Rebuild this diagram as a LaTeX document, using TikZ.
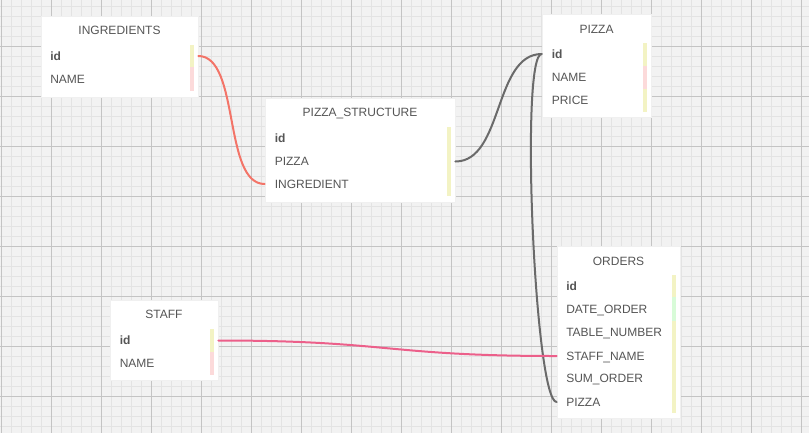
\documentclass[tikz,border=0pt]{standalone}
\usepackage{fontspec}
\setmainfont{Liberation Sans}
\usetikzlibrary{shadows}
\definecolor{canvas}{HTML}{F2F2F2}
\definecolor{gridminor}{HTML}{E3E3E3}
\definecolor{gridmajor}{HTML}{C4C4C4}
\definecolor{fieldtext}{HTML}{555555}
\definecolor{keyyellow}{HTML}{F3F3C4}
\definecolor{keypink}{HTML}{FCDADA}
\definecolor{keygreen}{HTML}{D8FBD8}
\definecolor{linkred}{HTML}{F37468}
\definecolor{linkgray}{HTML}{6A6A6A}
\definecolor{linkpink}{HTML}{EC5F8A}
\tikzset{
    tablebox/.style={fill=white, draw=black!6, line width=0.5pt, inner sep=0pt,
        drop shadow={shadow xshift=0.4pt, shadow yshift=-0.6pt, opacity=0.12}},
    tabletitle/.style={font=\fontsize{9}{11}\selectfont, text=fieldtext, inner sep=0pt,
        text height=6.5pt, text depth=0pt},
    fieldname/.style={tabletitle, anchor=west},
    keyfield/.style={fieldname, font=\fontsize{9}{11}\selectfont\bfseries},
    link/.style={line width=1.5pt, line cap=round}
}
\begin{document}
\begin{tikzpicture}[x=0.75pt, y=-0.75pt]
        \useasboundingbox (0,0) rectangle (809,433);
        \fill[canvas] (0,0) rectangle (809,433);
        \foreach \gx in {1.5,11.5,...,801.5}
            \draw[gridminor, line width=0.75pt] (\gx,0) -- (\gx,433);
        \foreach \gy in {6.5,16.5,...,426.5}
            \draw[gridminor, line width=0.75pt] (0,\gy) -- (809,\gy);
        \foreach \gx in {1.5,51.5,...,801.5}
            \draw[gridmajor, line width=0.75pt] (\gx,0) -- (\gx,433);
        \foreach \gy in {46.5,96.5,...,396.5}
            \draw[gridmajor, line width=0.75pt] (0,\gy) -- (809,\gy);

        \node[tablebox, minimum width=157*0.75pt, minimum height=81*0.75pt] (ingr) at (119.5,56.5) {};
        \node[tablebox, minimum width=190*0.75pt, minimum height=104*0.75pt] (pstruct) at (360,150) {};
        \node[tablebox, minimum width=109*0.75pt, minimum height=103*0.75pt] (pizza) at (596.5,65.5) {};
        \node[tablebox, minimum width=123*0.75pt, minimum height=172*0.75pt] (orders) at (618.5,332) {};
        \node[tablebox, minimum width=108*0.75pt, minimum height=80*0.75pt] (staff) at (164,340) {};

        \fill[keyyellow] (190,45) rectangle (194,67);
        \fill[keypink] (190,67) rectangle (194,91);
        \fill[keyyellow] (447,127) rectangle (451,196);
        \fill[keyyellow] (643,43) rectangle (647,66);
        \fill[keypink] (643,66) rectangle (647,89);
        \fill[keyyellow] (643,89) rectangle (647,112);
        \fill[keyyellow] (672,275) rectangle (676,297);
        \fill[keygreen] (672,297) rectangle (676,321);
        \fill[keyyellow] (672,321) rectangle (676,413);
        \fill[keyyellow] (210,329) rectangle (214,352);
        \fill[keypink] (210,352) rectangle (214,375);

        \node[tabletitle] (ingr-title) at (119.5,30) {INGREDIENTS};
        \node[keyfield] (ingr-id) at (50,56) {id};
        \node[fieldname] (ingr-name) at (50,79.5) {NAME};

        \node[tabletitle] (pstruct-title) at (360,112.5) {PIZZA\_STRUCTURE};
        \node[keyfield] (pstruct-id) at (274.5,138) {id};
        \node[fieldname] (pstruct-pizza) at (274.5,161.5) {PIZZA};
        \node[fieldname] (pstruct-ingr) at (274.5,184) {INGREDIENT};

        \node[tabletitle] (pizza-title) at (596.5,29) {PIZZA};
        \node[keyfield] (pizza-id) at (551.5,54) {id};
        \node[fieldname] (pizza-name) at (551.5,77) {NAME};
        \node[fieldname] (pizza-price) at (551.5,100) {PRICE};

        \node[tabletitle] (orders-title) at (618.5,261) {ORDERS};
        \node[keyfield] (orders-id) at (566,286) {id};
        \node[fieldname] (orders-date) at (566,309.5) {DATE\_ORDER};
        \node[fieldname] (orders-table) at (566,332) {TABLE\_NUMBER};
        \node[fieldname] (orders-staff) at (566,356) {STAFF\_NAME};
        \node[fieldname] (orders-sum) at (566,378.5) {SUM\_ORDER};
        \node[fieldname] (orders-pizza) at (566,402) {PIZZA};

        \node[tabletitle] (staff-title) at (164,314.5) {STAFF};
        \node[keyfield] (staff-id) at (119.5,340.5) {id};
        \node[fieldname] (staff-name) at (119.5,363) {NAME};

        \draw[link, linkred] (ingr.east |- ingr-id) .. controls +(42,0) and +(-42,0) .. (pstruct.west |- pstruct-ingr);
        \draw[link, linkgray] (pstruct.east |- pstruct-pizza) .. controls +(48,0) and +(-48,0) .. (pizza.west |- pizza-id);
        \draw[link, linkgray] (pizza.west |- pizza-id) .. controls +(-22,0) and +(-22,0) .. (orders.west |- orders-pizza);
        \draw[link, linkpink] (staff.east |- staff-id) .. controls +(170,0) and +(-170,0) .. (orders.west |- orders-staff);

    \end{tikzpicture}
\end{document}
